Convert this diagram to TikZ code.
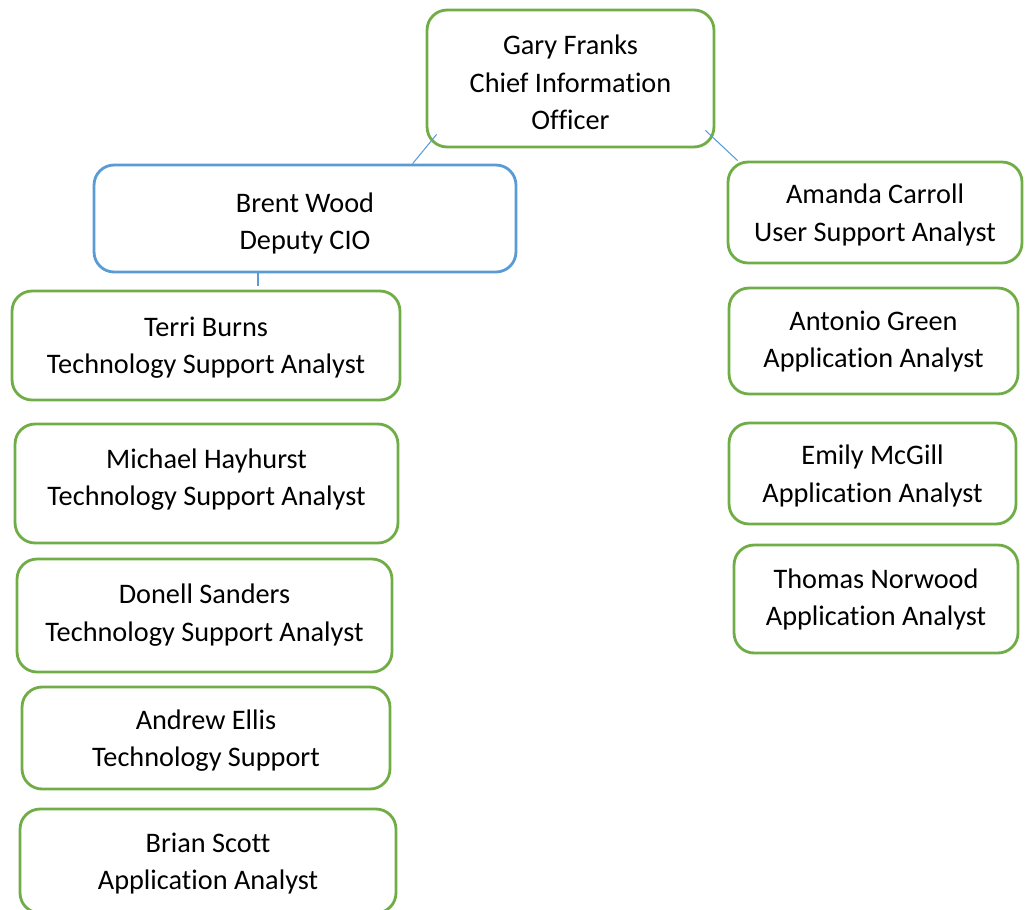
\documentclass[tikz,border=0pt]{standalone}
\usepackage{fontspec}
\setmainfont{Carlito}[Ligatures=NoCommon]
\usepackage{tikz}
\usetikzlibrary{positioning}

\definecolor{boxgreen}{HTML}{70AD47}
\definecolor{boxblue}{HTML}{5B9BD5}

\tikzset{
  person/.style={draw=boxgreen,line width=1.6pt,rounded corners=0.4cm,
    align=center,inner sep=0pt,text depth=0pt,font=\fontsize{16.1}{21.3}\selectfont},
  deputy/.style={person,draw=boxblue},
  conn/.style={draw=boxblue,line width=0.6pt}
}

\begin{document}
\begin{tikzpicture}[x=0.02cm,y=-0.02cm]
      \useasboundingbox (0,0) rectangle (1026,909);

      % top
      \node[person,minimum width=5.74cm,minimum height=2.74cm,text height=58.4pt] (gary) at (570.5,78.5)
        {Gary Franks\\Chief Information\\Officer};
      \node[deputy,minimum width=8.44cm,minimum height=2.14cm,text height=35.4pt] (brent) at (305,218.5)
        {Brent Wood\\Deputy CIO};

      % right column
      \node[person,minimum width=5.88cm,minimum height=2.02cm] (amanda) at (875,212.5)
        {Amanda Carroll\\User Support Analyst};
      \node[person,minimum width=5.78cm,minimum height=2.12cm,text depth=2.3pt] (antonio) at (873.5,341)
        {Antonio Green\\Application Analyst};
      \node[person,minimum width=5.74cm,minimum height=2.02cm] (emily) at (872.5,473.5)
        {Emily McGill\\Application Analyst};
      \node[person,minimum width=5.68cm,minimum height=2.16cm,text depth=2.3pt] (thomas) at (876,599)
        {Thomas Norwood\\Application Analyst};

      % left column
      \node[person,minimum width=7.76cm,minimum height=2.18cm] (terri) at (206,345.5)
        {Terri Burns\\Technology Support Analyst};
      \node[person,minimum width=7.66cm,minimum height=2.38cm,text depth=7pt] (michael) at (206.5,483.5)
        {Michael Hayhurst\\Technology Support Analyst};
      \node[person,minimum width=7.5cm,minimum height=2.26cm,text depth=3.4pt] (donell) at (204.5,615.5)
        {Donell Sanders\\Technology Support Analyst};
      \node[person,minimum width=7.36cm,minimum height=2.04cm] (andrew) at (206,738)
        {Andrew Ellis\\Technology Support};
      \node[person,minimum width=7.52cm,minimum height=2.08cm] (brian) at (208,861)
        {Brian Scott\\Application Analyst};

      \draw[conn] ([shift={(11,-14)}]gary.south west) -- ([shift={(320,0)}]brent.north west);
      \draw[conn] ([shift={(-10,-18)}]gary.south east) -- ([shift={(11,0)}]amanda.north west);
      \draw[conn] ([shift={(-47,0)}]brent.south) -- ([shift={(52,-4)}]terri.north);

\end{tikzpicture}
\end{document}
